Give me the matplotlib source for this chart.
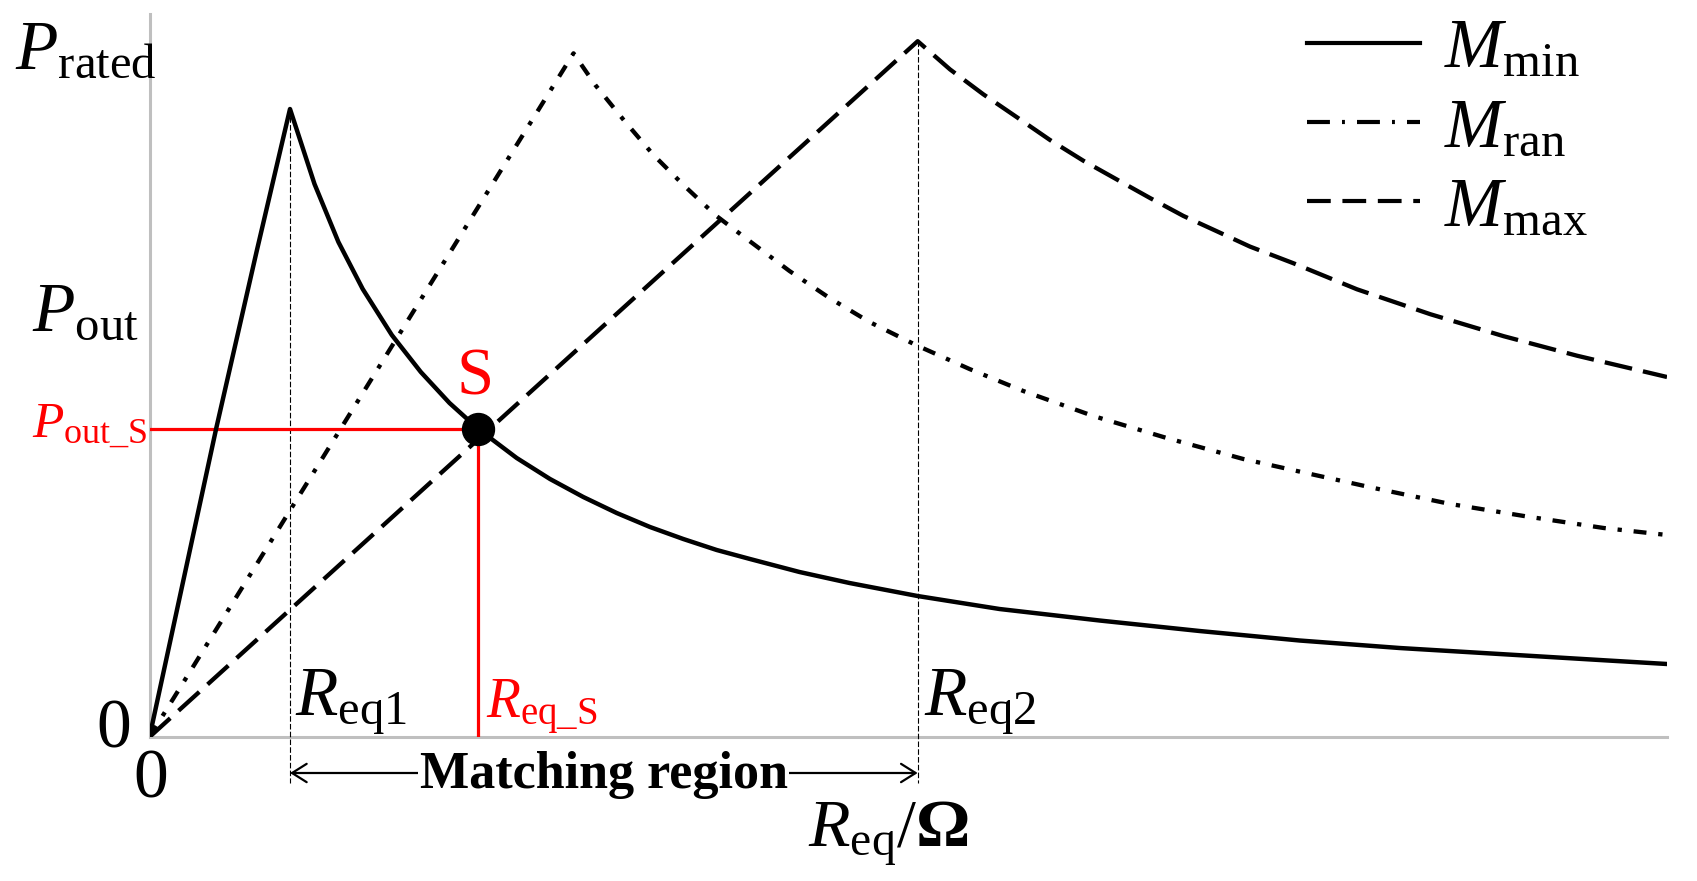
import matplotlib
matplotlib.use("Agg")
import matplotlib.pyplot as plt
from matplotlib.lines import Line2D

plt.rcParams['font.family'] = ['Liberation Serif', 'DejaVu Serif']
plt.rcParams['mathtext.fontset'] = 'custom'
plt.rcParams['mathtext.rm'] = 'Liberation Serif'
plt.rcParams['mathtext.it'] = 'Liberation Serif:italic'
plt.rcParams['mathtext.bf'] = 'Liberation Serif:bold'

# dane (R_eq, P_out w jednostkach wzglednych)
r_min = [0, 0.668, 1.07, 1.405, 1.65, 1.889, 2.132, 2.423, 2.713, 3.0, 3.288, 3.672, 4.005,
         4.338, 4.672, 5.005, 5.338, 5.672, 6.005, 6.5, 7.0, 7.68,
         8.5, 9.5, 10.5, 11.5, 12.5, 13.5, 14.5, 15.175]
p_min = [0, 3.09, 4.85, 6.28, 5.53, 4.95, 4.48, 4.02, 3.65, 3.34, 3.08, 2.79, 2.58,
         2.40, 2.24, 2.10, 1.98, 1.87, 1.78, 1.65, 1.54, 1.41,
         1.28, 1.165, 1.06, 0.965, 0.89, 0.83, 0.77, 0.73]

r_ran = [0, 4.24, 4.458, 4.75, 5.04, 5.35, 5.67, 6.0, 6.4, 6.8, 7.2, 7.672, 8.2, 8.738,
         9.438, 10.172, 10.938, 11.475, 12.242, 13.008, 13.775, 14.542, 15.175]
p_ran = [0, 6.837, 6.52, 6.16, 5.82, 5.51, 5.21, 4.96, 4.66, 4.39, 4.15, 3.916, 3.68, 3.46,
         3.21, 2.99, 2.78, 2.66, 2.49, 2.33, 2.205, 2.09, 2.02]

r_max = [0, 7.682, 8.005, 8.338, 8.672, 9.005, 9.338, 9.672, 10.005, 10.338, 10.672,
         11.005, 11.438, 12.075, 12.808, 13.542, 14.275, 15.175]
p_max = [0, 6.958, 6.676, 6.427, 6.199, 5.97, 5.763, 5.576, 5.39, 5.211, 5.058,
         4.904, 4.738, 4.477, 4.228, 4.008, 3.813, 3.6]

r_eq1, p_eq1 = 1.405, 6.28
r_eq2, p_eq2 = 7.682, 6.958
r_s, p_s = 3.288, 3.08

legend_labels = [r'$M_{\mathrm{min}}$', r'$M_{\mathrm{ran}}$', r'$M_{\mathrm{max}}$']

ls_ran = (0, (3, 2.75, 1, 2.75))
ls_max = (0, (6.5, 2.6))

fig = plt.figure(figsize=(16.97, 8.81), dpi=100)
ax = fig.add_axes([149.5 / 1697, 1 - 737 / 881, (1667 - 149.5) / 1697, (737 - 14.5) / 881])
ax.set_xlim(0, 15.175)
ax.set_ylim(0, 7.225)
ax.set_xticks([])
ax.set_yticks([])
for s in ['top', 'right']:
    ax.spines[s].set_visible(False)
for s in ['left', 'bottom']:
    ax.spines[s].set_color('#bfbfbf')
    ax.spines[s].set_linewidth(2.2)

# krzywe
ax.plot(r_min, p_min, color='k', lw=3.2, zorder=4)
ax.plot(r_ran, p_ran, color='k', lw=3.1, ls=ls_ran, zorder=4)
ax.plot(r_max, p_max, color='k', lw=3.1, ls=ls_max, zorder=4)

# linie pomocnicze Req1, Req2
y_low = -0.46
ax.plot([r_eq1, r_eq1], [p_eq1, y_low], color='k', lw=0.8, ls=(0, (5, 2)), clip_on=False, zorder=3)
ax.plot([r_eq2, r_eq2], [p_eq2, y_low], color='k', lw=0.8, ls=(0, (5, 2)), clip_on=False, zorder=3)

# punkt S
ax.plot([0, r_s], [p_s, p_s], color='red', lw=2.3, zorder=3)
ax.plot([r_s, r_s], [0, p_s], color='red', lw=2.3, zorder=3)
ax.plot([r_s], [p_s], 'o', color='k', markersize=23, zorder=6)
ax.text(r_s - 0.03, 3.42, 'S', color='red', fontsize=48, ha='center', va='baseline')

# strzalka zakresu dopasowania
y_arr = -0.36
ax.annotate('', xy=(r_eq2, y_arr), xytext=(r_eq1, y_arr),
            arrowprops=dict(arrowstyle='<->,head_length=0.35,head_width=0.22', lw=1.6,
                            shrinkA=0, shrinkB=0, mutation_scale=30, color='k'),
            annotation_clip=False)
ax.text((r_eq1 + r_eq2) / 2, -0.51, 'Matching region', fontsize=37.5, fontweight='bold',
        ha='center', va='baseline', bbox=dict(fc='white', ec='none', pad=1), zorder=5)

# opisy osi
ax.text(-1.345, 6.69, r'$P_{\mathrm{rated}}$', fontsize=50, va='baseline', clip_on=False)
ax.text(-1.17, 4.07, r'$P_{\mathrm{out}}$', fontsize=50, va='baseline', clip_on=False)
ax.text(-1.175, 3.00, r'$P_{\mathrm{out\_S}}$', fontsize=37, color='red', va='baseline')
ax.text(-0.355, -0.10, '0', fontsize=50, ha='center', va='baseline')
ax.text(0.015, -0.61, '0', fontsize=50, ha='center', va='baseline')
ax.text(1.455, 0.22, r'$R_{\mathrm{eq1}}$', fontsize=50, va='baseline')
ax.text(3.36, 0.19, r'$R_{\mathrm{eq\_S}}$', fontsize=40, color='red', va='baseline')
ax.text(7.74, 0.22, r'$R_{\mathrm{eq2}}$', fontsize=50, va='baseline')
ax.text(6.585, -1.10, r'$R_{\mathrm{eq}}/\mathbf{\Omega}$', fontsize=49, va='baseline')

# legenda
handles = [Line2D([], [], color='k', lw=3),
           Line2D([], [], color='k', lw=3, ls=(0, (5.5, 2.9, 0.7, 2.9))),
           Line2D([], [], color='k', lw=3, ls=(0, (5.7, 2.8)))]
fig.legend(handles, legend_labels, loc='upper left', bbox_to_anchor=(1307 / 1697, 1 - 19 / 881),
           frameon=False, borderpad=0, borderaxespad=0, handlelength=1.63, handletextpad=0.34,
           labelspacing=0.22, fontsize=50)

fig.savefig('out.png', dpi=100)
